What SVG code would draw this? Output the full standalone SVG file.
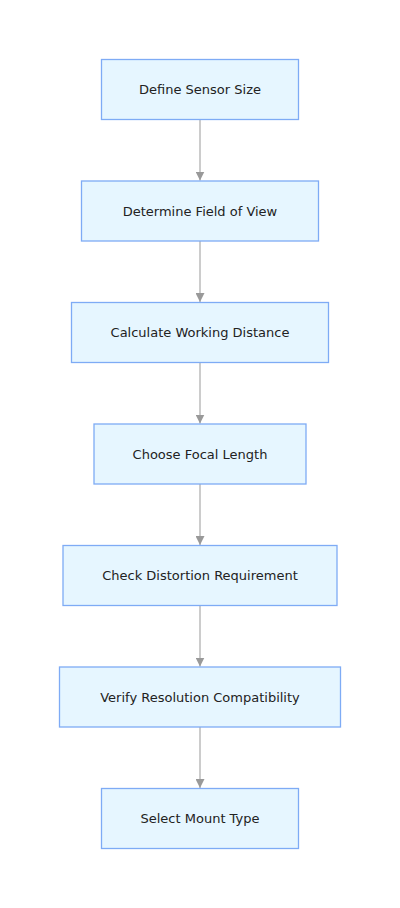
<svg xmlns="http://www.w3.org/2000/svg" width="400" height="908" viewBox="0 0 400 908">
<style>
.node rect{fill:#e6f6ff;stroke:#7eabf5;stroke-width:1.3}
.node text{font-family:"DejaVu Sans",Verdana,sans-serif;font-size:13px;fill:#222;text-anchor:middle;dominant-baseline:central}
.edge{stroke:#bbbbbb;stroke-width:1.5;fill:none}
</style>
<defs>
<marker id="arr" viewBox="0 0 10 10" refX="10" refY="5" markerWidth="9" markerHeight="9" markerUnits="userSpaceOnUse" orient="auto">
<path d="M0,0 L10,5 L0,10 z" fill="#999999"/>
</marker>
</defs>
<rect width="400" height="908" fill="#ffffff"/>
<g id="edges">
<line class="edge" x1="200" y1="119.5" x2="200" y2="180.5" marker-end="url(#arr)"/>
<line class="edge" x1="200" y1="241" x2="200" y2="302" marker-end="url(#arr)"/>
<line class="edge" x1="200" y1="362.5" x2="200" y2="423.5" marker-end="url(#arr)"/>
<line class="edge" x1="200" y1="484" x2="200" y2="545" marker-end="url(#arr)"/>
<line class="edge" x1="200" y1="605.5" x2="200" y2="666.5" marker-end="url(#arr)"/>
<line class="edge" x1="200" y1="727" x2="200" y2="788" marker-end="url(#arr)"/>
</g>
<g id="n1" class="node"><rect x="101.5" y="59.5" width="197" height="60"/><text x="200" y="89.5">Define Sensor Size</text></g>
<g id="n2" class="node"><rect x="81.5" y="181" width="237" height="60"/><text x="200" y="211">Determine Field of View</text></g>
<g id="n3" class="node"><rect x="71.5" y="302.5" width="257" height="60"/><text x="200" y="332.5">Calculate Working Distance</text></g>
<g id="n4" class="node"><rect x="94" y="424" width="212" height="60"/><text x="200" y="454">Choose Focal Length</text></g>
<g id="n5" class="node"><rect x="63" y="545.5" width="274" height="60"/><text x="200" y="575.5">Check Distortion Requirement</text></g>
<g id="n6" class="node"><rect x="59.5" y="667" width="281" height="60"/><text x="200" y="697">Verify Resolution Compatibility</text></g>
<g id="n7" class="node"><rect x="101.5" y="788.5" width="197" height="60"/><text x="200" y="818.5">Select Mount Type</text></g>
</svg>
